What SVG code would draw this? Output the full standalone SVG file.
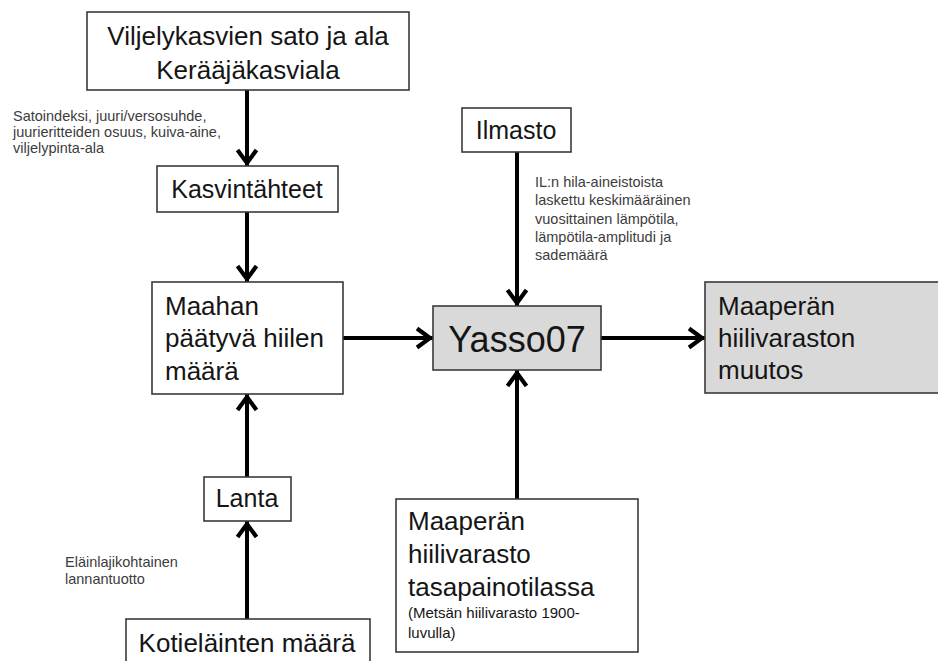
<svg xmlns="http://www.w3.org/2000/svg" width="938" height="661" viewBox="0 0 938 661">
<defs>
<style>
.box{fill:#ffffff;stroke:#3a3a3a;stroke-width:1.6}
.gray{fill:#d9d9d9;stroke:#3a3a3a;stroke-width:1.6}
.t{font-family:"Liberation Sans",Arial,sans-serif;fill:#151515}
.big{font-size:26px}
.mid{font-size:25px}
.small{font-size:14.5px;fill:#3c3c3c}
.note{font-size:15px}
.c{text-anchor:middle}
.edge{stroke:#000;stroke-width:4;fill:none;marker-end:url(#arr)}
</style>
<marker id="arr" markerUnits="userSpaceOnUse" markerWidth="30" markerHeight="30" viewBox="-20 -15 24 30" refX="0" refY="0" orient="auto">
<path d="M-16,-9.5 L-3,0 L-16,9.5" fill="none" stroke="#000" stroke-width="4.2"/>
</marker>
</defs>
<rect width="938" height="661" fill="#ffffff"/>

<g id="connectors">
<line class="edge" x1="247" y1="90" x2="247" y2="166"/>
<line class="edge" x1="247" y1="212" x2="247" y2="282"/>
<line class="edge" x1="247" y1="619" x2="247" y2="521"/>
<line class="edge" x1="247" y1="477" x2="247" y2="394"/>
<line class="edge" x1="343" y1="338" x2="433" y2="338"/>
<line class="edge" x1="517" y1="152" x2="517" y2="306"/>
<line class="edge" x1="517" y1="499" x2="517" y2="370"/>
<line class="edge" x1="601" y1="338" x2="705" y2="338"/>
</g>

<g id="n-viljely">
<rect class="box" x="87" y="12" width="322" height="78"/>
<text class="t big c" x="248" y="45">Viljelykasvien sato ja ala</text>
<text class="t big c" x="248" y="79">Kerääjäkasviala</text>
</g>

<g id="l-sato">
<text class="t small" x="13" y="121">Satoindeksi, juuri/versosuhde,</text>
<text class="t small" x="13" y="137">juurieritteiden osuus, kuiva-aine,</text>
<text class="t small" x="13" y="153">viljelypinta-ala</text>
</g>

<g id="n-kasvintahteet">
<rect class="box" x="157" y="166" width="181" height="46"/>
<text class="t mid c" x="247" y="198">Kasvintähteet</text>
</g>

<g id="n-maahan">
<rect class="box" x="152" y="282" width="191" height="112"/>
<text class="t big" x="165" y="315">Maahan</text>
<text class="t big" x="165" y="347">päätyvä hiilen</text>
<text class="t big" x="165" y="380">määrä</text>
</g>

<g id="n-ilmasto">
<rect class="box" x="462" y="108" width="109" height="44"/>
<text class="t mid c" x="516" y="139">Ilmasto</text>
</g>

<g id="l-ilmasto">
<text class="t small" x="535" y="187">IL:n hila-aineistoista</text>
<text class="t small" x="535" y="205">laskettu keskimääräinen</text>
<text class="t small" x="535" y="224">vuosittainen lämpötila,</text>
<text class="t small" x="535" y="242">lämpötila-amplitudi ja</text>
<text class="t small" x="535" y="260">sademäärä</text>
</g>

<g id="n-yasso">
<rect class="gray" x="433" y="306" width="168" height="64"/>
<text class="t c" x="517" y="352" font-size="36">Yasso07</text>
</g>

<g id="n-muutos">
<rect class="gray" x="705" y="282" width="240" height="111"/>
<text class="t big" x="718" y="315">Maaperän</text>
<text class="t big" x="718" y="347">hiilivaraston</text>
<text class="t big" x="718" y="379">muutos</text>
</g>

<g id="n-tasapaino">
<rect class="box" x="396" y="499" width="242" height="153"/>
<text class="t big" x="408" y="530">Maaperän</text>
<text class="t big" x="408" y="563">hiilivarasto</text>
<text class="t big" x="408" y="596">tasapainotilassa</text>
<text class="t note" x="408" y="618">(Metsän hiilivarasto 1900-</text>
<text class="t note" x="408" y="638">luvulla)</text>
</g>

<g id="n-lanta">
<rect class="box" x="204" y="477" width="87" height="44"/>
<text class="t mid c" x="247" y="507">Lanta</text>
</g>

<g id="l-elain">
<text class="t small" x="65" y="567">Eläinlajikohtainen</text>
<text class="t small" x="65" y="584">lannantuotto</text>
</g>

<g id="n-kotielain">
<rect class="box" x="126" y="619" width="244" height="60"/>
<text class="t big c" x="247" y="652">Kotieläinten määrä</text>
</g>
</svg>
